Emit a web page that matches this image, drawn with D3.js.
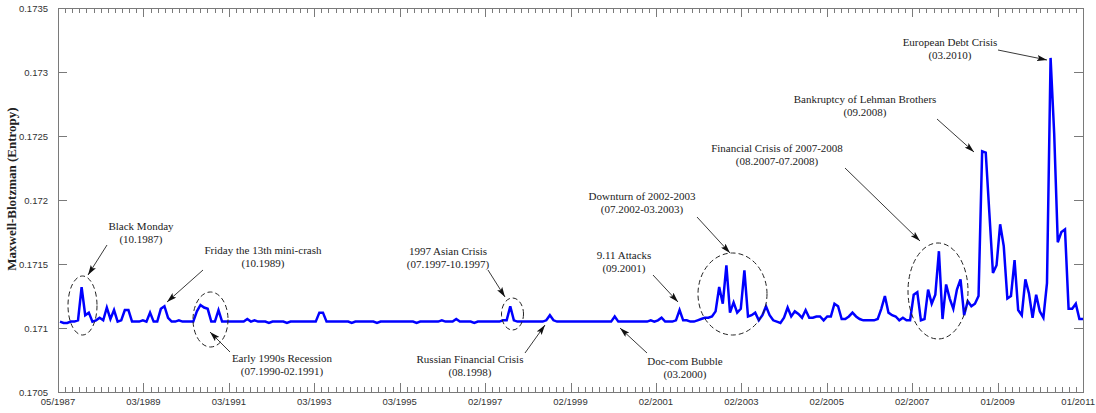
<!DOCTYPE html>
<html>
<head>
<meta charset="utf-8">
<script src="https://cdn.jsdelivr.net/npm/d3@7"></script>
<style>
  html, body { margin: 0; padding: 0; background: #fff; }
  svg { display: block; }
</style>
</head>
<body>
<svg id="chart" width="1096" height="413"></svg>
<script>
// Monthly Maxwell-Boltzmann entropy, 05/1987 .. 01/2011 (one value per month)
const entropy = [
  0.17105, 0.17104, 0.17104, 0.17105, 0.17105, 0.17106, 0.17132, 0.17110, 0.17112, 0.17105, 0.17106, 0.17108,
  0.17106, 0.17116, 0.17107, 0.17114, 0.17105, 0.17106, 0.17114, 0.17114, 0.17105, 0.17105, 0.17105, 0.17106,
  0.17105, 0.17112, 0.17105, 0.17105, 0.17115, 0.17117, 0.17108, 0.17105, 0.17105, 0.17106, 0.17105, 0.17105,
  0.17105, 0.17105, 0.17113, 0.17118, 0.17116, 0.17115, 0.17105, 0.17105, 0.17114, 0.17105, 0.17105, 0.17105,
  0.17105, 0.17105, 0.17105, 0.17105, 0.17107, 0.17105, 0.17106, 0.17105, 0.17105, 0.17105, 0.17104, 0.17105,
  0.17105, 0.17105, 0.17105, 0.17104, 0.17105, 0.17105, 0.17105, 0.17105, 0.17105, 0.17105, 0.17105, 0.17105,
  0.17112, 0.17112, 0.17105, 0.17105, 0.17105, 0.17105, 0.17105, 0.17105, 0.17105, 0.17104, 0.17105, 0.17105,
  0.17105, 0.17105, 0.17105, 0.17105, 0.17104, 0.17105, 0.17105, 0.17105, 0.17105, 0.17105, 0.17105, 0.17105,
  0.17105, 0.17105, 0.17105, 0.17104, 0.17105, 0.17105, 0.17105, 0.17105, 0.17105, 0.17105, 0.17106, 0.17105,
  0.17105, 0.17105, 0.17107, 0.17105, 0.17105, 0.17105, 0.17105, 0.17104, 0.17105, 0.17105, 0.17105, 0.17105,
  0.17105, 0.17105, 0.17105, 0.17106, 0.17106, 0.17117, 0.17106, 0.17105, 0.17105, 0.17105, 0.17105, 0.17105,
  0.17105, 0.17105, 0.17105, 0.17106, 0.17110, 0.17106, 0.17105, 0.17105, 0.17105, 0.17105, 0.17105, 0.17105,
  0.17105, 0.17105, 0.17105, 0.17105, 0.17105, 0.17105, 0.17105, 0.17105, 0.17105, 0.17105, 0.17109, 0.17105,
  0.17105, 0.17105, 0.17105, 0.17105, 0.17105, 0.17105, 0.17105, 0.17105, 0.17106, 0.17105, 0.17106, 0.17108,
  0.17105, 0.17105, 0.17105, 0.17106, 0.17114, 0.17106, 0.17106, 0.17105, 0.17105, 0.17106, 0.17107, 0.17108,
  0.17108, 0.17109, 0.17113, 0.17132, 0.17119, 0.17149, 0.17112, 0.17120, 0.17112, 0.17115, 0.17145, 0.17109,
  0.17110, 0.17112, 0.17106, 0.17110, 0.17117, 0.17110, 0.17106, 0.17105, 0.17104, 0.17108, 0.17116, 0.17109,
  0.17113, 0.17111, 0.17108, 0.17114, 0.17108, 0.17108, 0.17109, 0.17109, 0.17106, 0.17109, 0.17109, 0.17119,
  0.17117, 0.17107, 0.17107, 0.17109, 0.17112, 0.17109, 0.17107, 0.17106, 0.17106, 0.17106, 0.17106, 0.17107,
  0.17115, 0.17125, 0.17112, 0.17110, 0.17109, 0.17106, 0.17108, 0.17106, 0.17106, 0.17126, 0.17128, 0.17106,
  0.17107, 0.17130, 0.17119, 0.17126, 0.17160, 0.17107, 0.17134, 0.17123, 0.17115, 0.17130, 0.17138, 0.17110,
  0.17121, 0.17117, 0.17119, 0.17125, 0.17238, 0.17237, 0.17190, 0.17143, 0.17149, 0.17181, 0.17164, 0.17123,
  0.17125, 0.17153, 0.17114, 0.17110, 0.17138, 0.17127, 0.17108, 0.17126, 0.17113, 0.17108, 0.17135, 0.17311,
  0.17252, 0.17167, 0.17175, 0.17177, 0.17115, 0.17115, 0.17119, 0.17107, 0.17107
];

const xTickLabels = ["05/1987", "03/1989", "03/1991", "03/1993", "03/1995", "02/1997",
                     "02/1999", "02/2001", "02/2003", "02/2005", "02/2007", "01/2009", "01/2011"];
const yTickValues = [0.1705, 0.171, 0.1715, 0.172, 0.1725, 0.173, 0.1735];
const yTickLabels = ["0.1705", "0.171", "0.1715", "0.172", "0.1725", "0.173", "0.1735"];

const eventNames = ["Black Monday", "Friday the 13th mini-crash", "Early 1990s Recession",
                    "1997 Asian Crisis", "Russian Financial Crisis", "9.11 Attacks", "Doc-com Bubble",
                    "Downturn of 2002-2003", "Financial Crisis of 2007-2008",
                    "Bankruptcy of Lehman Brothers", "European Debt Crisis"];
const eventDates = ["(10.1987)", "(10.1989)", "(07.1990-02.1991)", "(07.1997-10.1997)", "(08.1998)",
                    "(09.2001)", "(03.2000)", "(07.2002-03.2003)", "(08.2007-07.2008)", "(09.2008)", "(03.2010)"];

// Callout placement (pixels): text centre/baseline, arrow start/end, optional dashed ellipse
const calloutLayout = [
  { tx: 141, ty: 230, a: [107, 245, 88, 275],  e: [82.5, 305.5, 14.5, 29.5] },
  { tx: 263, ty: 254, a: [203, 270, 167, 302], e: null },
  { tx: 282, ty: 362, a: [230, 352, 210, 332], e: [210.5, 319.5, 17.5, 27.5] },
  { tx: 448, ty: 255, a: [488, 270, 505, 297], e: [512.5, 314, 11, 16] },
  { tx: 470, ty: 363, a: [525, 353, 545, 325], e: null },
  { tx: 624, ty: 259, a: [653, 275, 678, 302], e: null },
  { tx: 685, ty: 365, a: [647, 353, 620, 328], e: null },
  { tx: 642, ty: 200, a: [697, 217, 730, 253], e: [732.5, 294, 34.5, 41] },
  { tx: 777, ty: 152, a: [845, 168, 920, 241], e: [938, 291, 30, 48] },
  { tx: 865, ty: 103, a: [937, 119, 974, 152], e: null },
  { tx: 950, ty: 46,  a: [998, 50, 1047, 60],  e: null }
];

const W = 1096, H = 413;
const plot = { left: 58, right: 1083, top: 8, bottom: 392 };

const svg = d3.select("#chart");

const x = d3.scaleLinear().domain([0, entropy.length - 1]).range([plot.left + 2, plot.right]);
const xTick = d3.scaleLinear().domain([0, xTickLabels.length - 1]).range([plot.left, plot.right]);
const y = d3.scaleLinear().domain([0.1705, 0.1735]).range([plot.bottom, plot.top]);

const axisColor = "#7a7a7a";
const tickFont = "'Liberation Sans', Arial, Helvetica, sans-serif";
const serif = "'Liberation Serif', 'Times New Roman', Times, serif";

// Minor tick positions (12 subdivisions between labelled ticks)
const minorTicks = d3.range(0, (xTickLabels.length - 1) * 12 + 1).map(k => k / 12);

const gAxes = svg.append("g");

// Frame
gAxes.append("rect")
  .attr("x", plot.left).attr("y", plot.top)
  .attr("width", plot.right - plot.left).attr("height", plot.bottom - plot.top)
  .attr("fill", "none").attr("stroke", axisColor).attr("stroke-width", 1)
  .attr("shape-rendering", "crispEdges");

// Bottom and top ticks, pointing inward
[["bottom", plot.bottom, -1], ["top", plot.top, 1]].forEach(([name, yy, dir]) => {
  const g = gAxes.append("g").attr("class", "x-ticks-" + name);
  g.selectAll("line").data(minorTicks).join("line")
    .attr("x1", d => Math.round(xTick(d)) + 0.5).attr("x2", d => Math.round(xTick(d)) + 0.5)
    .attr("y1", yy)
    .attr("y2", d => yy + dir * (Number.isInteger(d) ? 9 : 5))
    .attr("stroke", axisColor).attr("stroke-width", 1);
});

// Bottom tick labels (the last one is kept inside the canvas)
const lastTick = xTickLabels.length - 1;
gAxes.append("g").selectAll("text").data(xTickLabels).join("text")
  .attr("x", (d, i) => i === lastTick ? W - 1 : xTick(i))
  .attr("y", 405)
  .attr("text-anchor", (d, i) => i === lastTick ? "end" : "middle")
  .attr("font-family", tickFont).attr("font-size", 9.5)
  .attr("fill", "#333")
  .text(d => d);

// Left and right y ticks, pointing inward
[[plot.left, 1], [plot.right, -1]].forEach(([xx, dir]) => {
  gAxes.append("g").selectAll("line").data(yTickValues).join("line")
    .attr("x1", xx).attr("x2", xx + dir * 9)
    .attr("y1", d => Math.round(y(d)) + 0.5).attr("y2", d => Math.round(y(d)) + 0.5)
    .attr("stroke", axisColor).attr("stroke-width", 1);
});

gAxes.append("g").selectAll("text").data(yTickValues).join("text")
  .attr("x", 48)
  .attr("y", d => y(d) + 3.5)
  .attr("text-anchor", "end")
  .attr("font-family", tickFont).attr("font-size", 9.5)
  .attr("fill", "#333")
  .text((d, i) => yTickLabels[i]);

// Y axis title
svg.append("text")
  .attr("transform", "translate(16,189) rotate(-90)")
  .attr("text-anchor", "middle")
  .attr("font-family", serif).attr("font-weight", "bold").attr("font-size", 13)
  .attr("fill", "#222")
  .text("Maxwell-Blotzman (Entropy)");

// Entropy series
const line = d3.line().x((d, i) => x(i)).y(d => y(d));
svg.append("path")
  .datum(entropy)
  .attr("d", line)
  .attr("fill", "none")
  .attr("stroke", "#0000ff")
  .attr("stroke-width", 2.5)
  .attr("stroke-linejoin", "miter");

// Arrow head
svg.append("defs").append("marker")
  .attr("id", "arrow")
  .attr("viewBox", "0 0 10 6")
  .attr("refX", 10).attr("refY", 3)
  .attr("markerUnits", "userSpaceOnUse")
  .attr("markerWidth", 10).attr("markerHeight", 6)
  .attr("orient", "auto")
  .append("path").attr("d", "M0,0 L10,3 L0,6 L2,3 Z").attr("fill", "#111");

// Event callouts
const callouts = svg.append("g");
eventNames.forEach((name, k) => {
  const c = calloutLayout[k];
  const t = callouts.append("text")
    .attr("text-anchor", "middle")
    .attr("font-family", serif).attr("font-size", 11)
    .attr("fill", "#222");
  t.append("tspan").attr("x", c.tx).attr("y", c.ty).text(name);
  t.append("tspan").attr("x", c.tx).attr("y", c.ty + 13).text(eventDates[k]);
  callouts.append("line")
    .attr("x1", c.a[0]).attr("y1", c.a[1]).attr("x2", c.a[2]).attr("y2", c.a[3])
    .attr("stroke", "#222").attr("stroke-width", 0.9)
    .attr("marker-end", "url(#arrow)");
  if (c.e) {
    callouts.append("ellipse")
      .attr("cx", c.e[0]).attr("cy", c.e[1]).attr("rx", c.e[2]).attr("ry", c.e[3])
      .attr("fill", "none").attr("stroke", "#222").attr("stroke-width", 1)
      .attr("stroke-dasharray", "5,3");
  }
});
</script>
</body>
</html>
